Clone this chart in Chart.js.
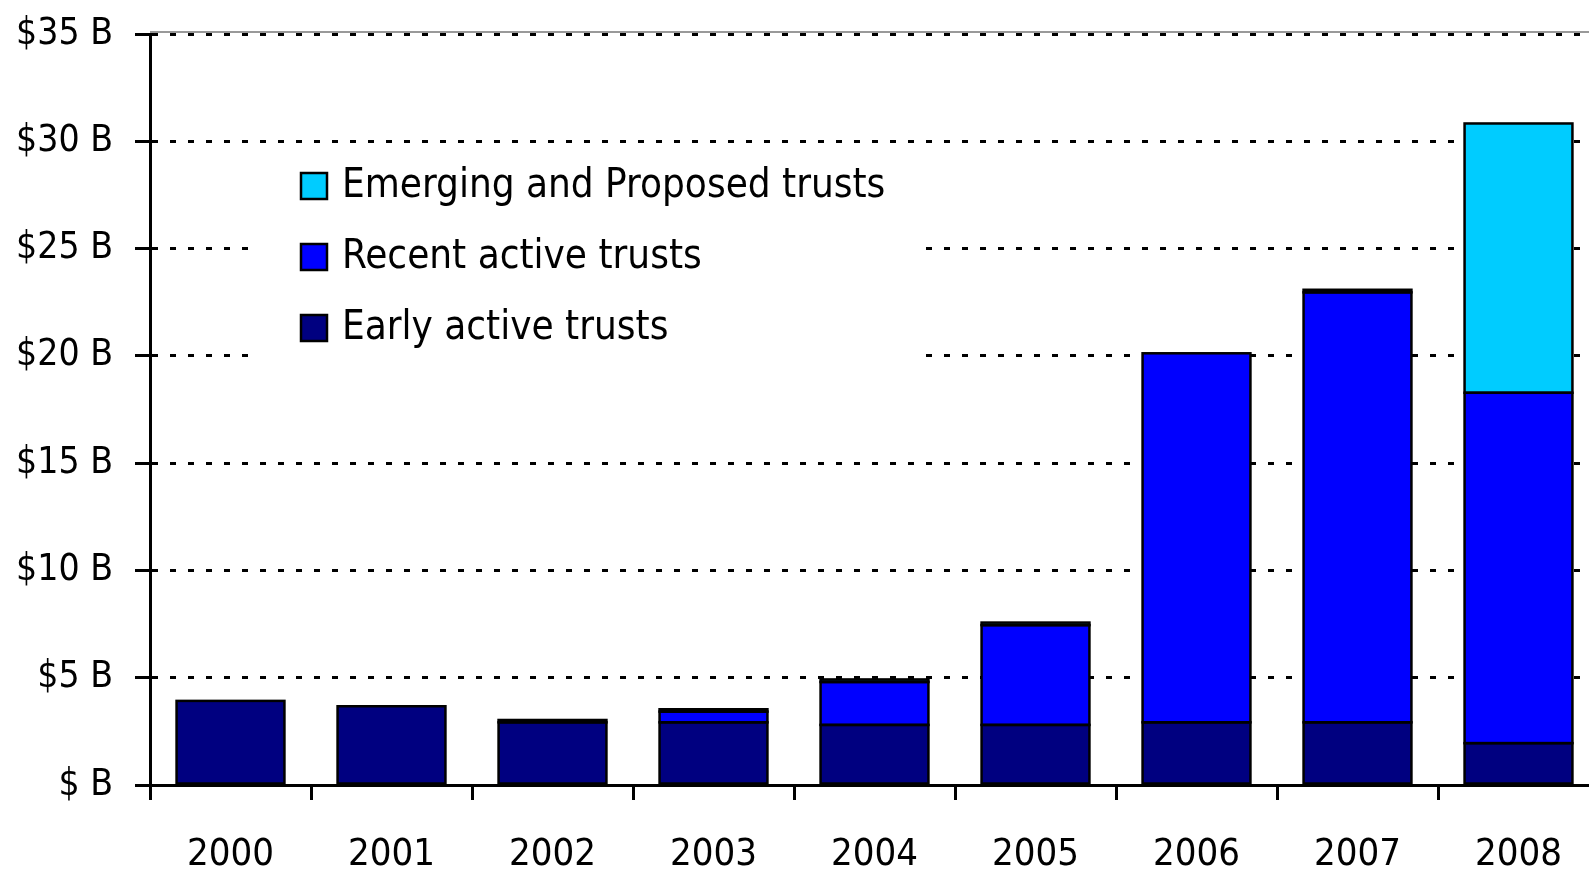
<!DOCTYPE html>
<html>
<head>
<meta charset="utf-8">
<script src="https://cdn.jsdelivr.net/npm/chart.js@4"></script>
<style>
  html, body { margin: 0; padding: 0; background: #fff; overflow: hidden; }
  #wrap { width: 1600px; height: 875px; }
</style>
</head>
<body>
<div id="wrap"><canvas id="trusts_chart" width="1600" height="875"></canvas></div>
<script>
var years = ['2000', '2001', '2002', '2003', '2004', '2005', '2006', '2007', '2008'];
// $ billions
var earlyActive = [3.92, 3.67, 2.92, 2.92, 2.8, 2.8, 2.92, 2.92, 1.95];
var recentActive = [0, 0, 0.11, 0.5, 2.0, 4.65, 17.2, 20.04, 16.33];
var emerging = [0, 0, 0, 0.11, 0.12, 0.12, 0, 0.12, 12.55];
var yTicks = [0, 5, 10, 15, 20, 25, 30, 35];

var FONT = "'DejaVu Sans Condensed', 'Liberation Sans Narrow', sans-serif";

// black outlines on every bar segment
var barOutline = {
  id: 'barOutline',
  afterDatasetsDraw: function (chart) {
    var ctx = chart.ctx;
    ctx.save();
    ctx.strokeStyle = '#000';
    ctx.lineWidth = 2.5;
    chart.data.datasets.forEach(function (d, i) {
      chart.getDatasetMeta(i).data.forEach(function (bar, j) {
        if (!d.data[j]) return;
        var p = bar.getProps(['x', 'y', 'base', 'width'], true);
        ctx.strokeRect(p.x - p.width / 2, p.y, p.width, p.base - p.y);
      });
    });
    ctx.restore();
  }
};

// legend drawn inside the plot, on a white box that hides the grid
var boxLegend = {
  id: 'boxLegend',
  beforeDatasetsDraw: function (chart) {
    var ctx = chart.ctx, a = chart.chartArea;
    ctx.save();
    ctx.strokeStyle = '#999';
    ctx.lineWidth = 2;
    ctx.beginPath();
    ctx.moveTo(a.left, a.top - 2);
    ctx.lineTo(a.right, a.top - 2);
    ctx.stroke();
    ctx.restore();
  },
  afterDraw: function (chart) {
    var ctx = chart.ctx;
    ctx.save();
    ctx.fillStyle = '#fff';
    ctx.fillRect(248, 152, 674, 226);
    var ds = chart.data.datasets;
    var order = [2, 1, 0];
    ctx.font = '40px ' + FONT;
    ctx.textBaseline = 'middle';
    order.forEach(function (idx, row) {
      var y = 186 + row * 71;
      ctx.fillStyle = ds[idx].backgroundColor;
      ctx.fillRect(301, y - 13, 26, 26);
      ctx.strokeStyle = '#000';
      ctx.lineWidth = 2.5;
      ctx.strokeRect(301, y - 13, 26, 26);
      ctx.fillStyle = '#000';
      ctx.fillText(ds[idx].label, 342, y + 1);
    });
    ctx.restore();
  }
};

window.onload = function () {
  var context = document.querySelector('#trusts_chart').getContext('2d');
  new Chart(context, {
    type: 'bar',
    data: {
      labels: years,
      datasets: [{
        label: 'Early active trusts',
        data: earlyActive,
        backgroundColor: '#000080',
        borderWidth: 0
      }, {
        label: 'Recent active trusts',
        data: recentActive,
        backgroundColor: '#0000ff',
        borderWidth: 0
      }, {
        label: 'Emerging and Proposed trusts',
        data: emerging,
        backgroundColor: '#00ccff',
        borderWidth: 0
      }]
    },
    options: {
      responsive: false,
      animation: false,
      categoryPercentage: 1,
      barPercentage: 0.67,
      layout: { padding: { top: 34, right: 1, left: 0, bottom: 0 } },
      plugins: {
        legend: { display: false },
        tooltip: { enabled: false }
      },
      scales: {
        x: {
          stacked: true,
          grid: {
            offset: true,
            drawOnChartArea: false,
            tickLength: 15,
            tickWidth: 3,
            tickColor: '#000'
          },
          border: { display: true, color: '#000', width: 3 },
          ticks: {
            color: '#000',
            font: { family: FONT, size: 38 },
            padding: 32,
            maxRotation: 0
          },
          afterFit: function (scale) {
            scale.height = 90;
            scale.paddingLeft = 0;
            scale.paddingRight = 0;
          }
        },
        y: {
          stacked: true,
          min: 0,
          max: 35,
          afterBuildTicks: function (scale) {
            scale.ticks = yTicks.map(function (v) { return { value: v }; });
          },
          grid: {
            color: '#000',
            lineWidth: 3,
            tickLength: 15,
            tickWidth: 3,
            tickColor: '#000',
            tickBorderDash: []
          },
          border: { display: true, color: '#000', width: 3, dash: [6, 12] },
          ticks: {
            color: '#000',
            font: { family: FONT, size: 37 },
            padding: 22,
            callback: function (v) { return '$' + (v === 0 ? '' : v) + ' B'; }
          },
          afterFit: function (scale) {
            scale.width = 150;
            scale.paddingTop = 0;
            scale.paddingBottom = 0;
          }
        }
      }
    },
    plugins: [barOutline, boxLegend]
  });
};
</script>
</body>
</html>
